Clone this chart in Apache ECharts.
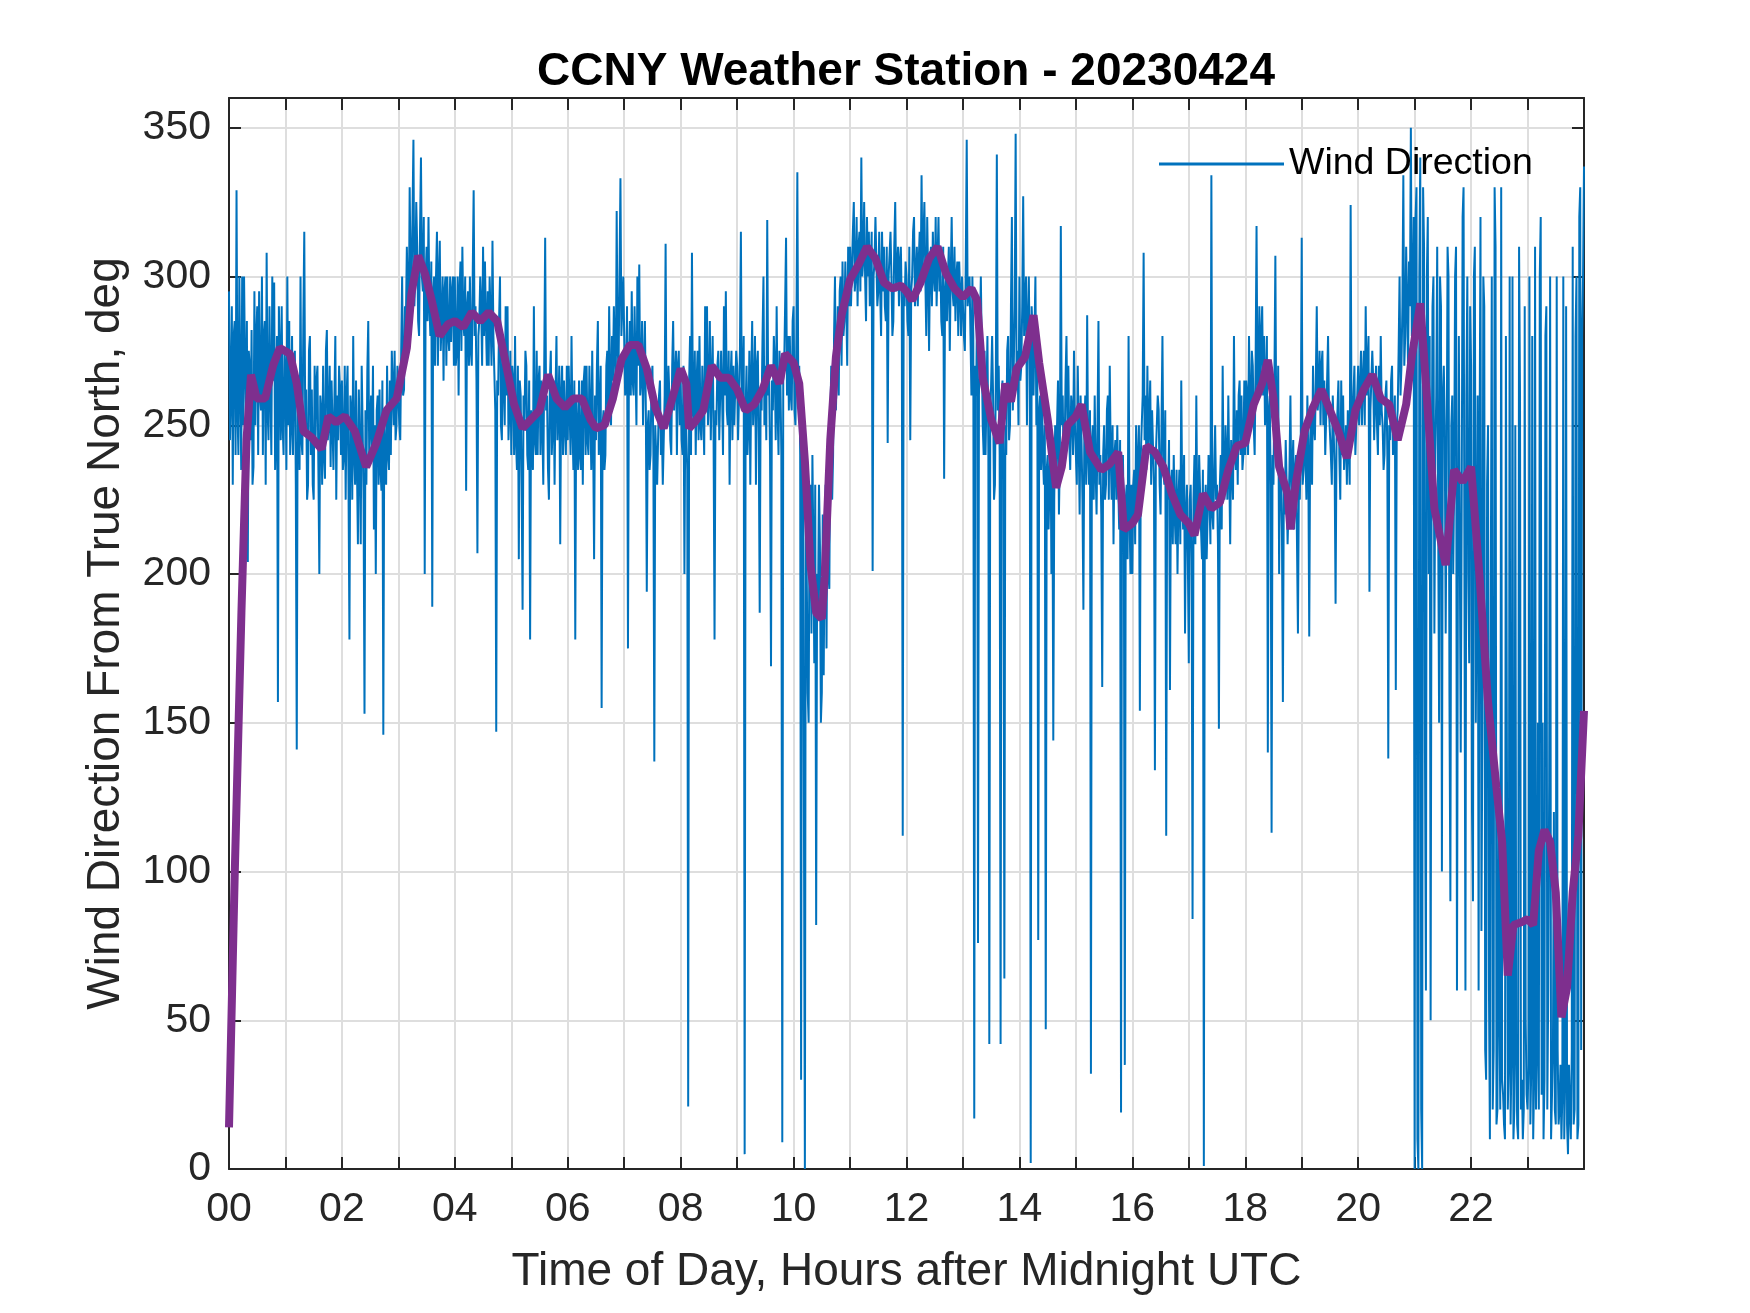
<!DOCTYPE html>
<html>
<head>
<meta charset="utf-8">
<script src="https://cdn.jsdelivr.net/npm/echarts@6/dist/echarts.min.js"></script>
<style>
  html, body { margin: 0; padding: 0; background: #ffffff; }
  #chart { width: 1750px; height: 1313px; }
</style>
</head>
<body>
<div id="chart"></div>
<script>
// ---- Data ----
const titleText = 'CCNY Weather Station - 20230424';
const xAxisName = 'Time of Day, Hours after Midnight UTC';
const yAxisName = 'Wind Direction From True North, deg';
const legendName = 'Wind Direction';

// raw wind direction samples, one per minute within each hour, plus the final sample at 24 h
const windDirH00 = [295,245,262,290,230,280,285,240,329,255,240,300,265,235,300,250,300,270,250,285,204,275,270,245,282,230,236,295,250,280,290,240,295,260,255,300,240,280,285,230,308,255,245,290,262,240,300,265,298,235,250,280,157,290,275,245,290,250,240,275];
const windDirH01 = [268,235,300,250,285,240,250,280,240,270,275,230,141,265,260,235,300,245,240,285,315,250,262,225,230,275,280,240,262,230,225,270,245,265,270,235,200,260,255,230,270,240,232,275,282,245,250,270,236,265,265,235,258,280,225,260,245,270,262,240];
const windDirH02 = [265,235,240,270,225,260,270,230,178,260,255,225,280,240,230,265,236,210,262,240,210,270,250,225,153,255,230,268,285,240,240,260,238,270,215,250,200,255,260,230,262,235,228,265,146,250,250,230,270,240,235,265,240,275,275,250,275,245,250,270];
const windDirH03 = [270,250,245,275,300,260,262,290,285,310,310,280,330,300,295,320,346,290,300,325,310,285,280,315,340,300,295,320,200,300,310,285,320,290,280,305,189,295,300,270,300,315,270,300,312,275,285,300,265,295,300,270,300,280,275,300,278,295,300,270];
const windDirH04 = [300,270,275,300,260,295,305,275,310,285,280,300,228,290,295,270,300,275,270,300,329,280,290,265,207,280,285,300,290,270,310,280,305,285,270,295,270,300,300,270,312,280,280,255,147,265,260,285,300,250,245,280,265,250,290,260,290,245,255,275];
const windDirH05 = [240,270,265,240,280,245,235,270,205,265,260,230,188,260,250,275,270,240,235,265,178,255,255,235,290,245,240,275,240,265,270,240,265,250,230,270,313,255,260,235,225,265,275,240,250,265,230,260,280,245,255,270,210,260,270,240,265,250,240,270];
const windDirH06 = [245,270,270,240,280,250,235,265,178,260,260,235,265,240,235,265,230,265,270,240,270,245,240,270,255,235,275,245,205,260,245,270,285,240,240,270,155,250,255,235,240,270,275,250,290,265,250,280,265,290,290,260,322,275,270,300,333,280,280,300];
const windDirH07 = [300,260,265,290,175,270,285,260,295,265,260,290,270,250,300,270,304,260,265,285,250,270,285,255,194,250,255,235,240,265,270,240,137,250,250,230,230,260,265,240,250,230,230,260,311,250,255,270,260,245,240,270,285,255,255,275,240,270,275,250];
const windDirH08 = [265,245,240,270,200,260,260,235,21,265,280,240,308,255,250,275,240,265,275,245,280,250,245,270,255,240,290,260,290,250,260,285,245,265,280,245,178,255,250,270,275,245,245,275,260,240,290,260,295,255,250,275,230,265,275,245,270,250,250,275];
const windDirH09 = [270,245,245,275,315,255,260,280,5,255,270,240,250,275,230,265,285,250,260,280,230,270,275,245,187,260,255,280,300,250,270,245,319,260,265,240,169,265,255,280,270,245,290,255,240,275,265,240,9,265,270,290,313,260,280,255,280,260,255,285];
const windDirH10 = [290,255,250,280,335,260,270,240,30,250,240,120,0,230,200,160,150,225,230,180,240,210,170,230,82,200,190,230,210,150,160,220,166,210,230,175,230,200,195,250,270,225,240,280,300,255,270,290,260,295,300,270,305,280,285,305,290,270,310,290];
const windDirH11 = [310,290,290,315,325,295,300,320,290,310,315,295,340,300,305,325,300,285,320,300,315,290,290,315,201,300,305,320,320,290,295,315,295,280,315,295,310,290,285,310,244,300,300,315,300,280,285,310,325,295,295,310,290,305,310,290,112,295,290,305];
const windDirH12 = [300,285,280,310,245,295,300,315,320,290,290,310,290,305,315,295,334,300,300,325,300,280,320,300,275,305,310,290,315,300,295,320,290,305,320,295,305,285,280,310,232,295,300,285,300,310,275,300,320,295,290,310,285,300,305,280,305,295,280,300];
const windDirH13 = [300,280,275,305,346,290,290,300,280,260,300,280,17,270,260,290,76,260,280,300,300,250,240,275,240,260,280,240,42,250,250,280,260,225,230,270,341,255,270,240,42,260,265,235,64,250,240,275,280,245,250,290,320,255,270,290,348,265,275,250];
const windDirH14 = [300,265,270,290,327,280,290,300,250,285,300,270,2,290,280,260,280,300,250,270,77,255,260,235,260,240,230,250,47,235,240,215,230,250,200,240,144,225,250,230,250,265,220,240,317,250,260,235,240,265,280,250,270,245,235,260,255,240,275,250];
const windDirH15 = [250,230,270,245,220,260,245,225,188,250,260,230,287,240,230,255,32,245,250,225,260,235,220,250,285,230,240,220,162,240,250,225,230,255,260,225,270,240,225,250,210,240,245,225,250,230,215,245,19,230,240,215,35,225,230,205,280,220,200,230];
const windDirH16 = [200,230,235,210,250,225,225,250,154,240,240,260,308,245,260,235,270,240,240,265,230,255,255,230,134,240,240,260,255,230,220,250,280,235,230,255,112,230,225,245,161,230,235,210,240,220,210,235,200,225,235,210,265,225,215,240,180,220,230,205];
const windDirH17 = [170,225,230,205,84,225,240,210,260,220,215,240,240,215,205,235,1,220,230,205,220,240,240,210,334,220,215,235,250,225,230,210,148,230,240,215,270,230,225,250,240,225,260,235,210,245,245,225,280,240,235,255,230,260,265,240,260,235,240,265];
const windDirH18 = [240,265,260,240,280,255,250,275,270,250,240,270,317,260,265,290,260,280,290,260,280,250,250,280,140,255,260,230,113,240,230,265,307,245,240,270,200,240,235,215,157,230,220,245,230,210,210,235,260,225,225,245,215,235,240,210,180,230,225,245];
const windDirH19 = [313,230,235,250,240,225,260,240,179,245,255,230,270,250,245,265,290,255,260,275,250,270,275,250,265,240,240,265,280,255,255,240,230,260,260,235,190,245,245,265,240,225,265,240,260,235,235,250,230,255,255,230,324,245,245,260,270,240,240,260];
const windDirH20 = [270,250,250,275,250,265,275,250,290,260,260,280,194,255,255,275,265,245,245,270,250,240,270,250,280,255,250,235,240,260,265,240,138,250,245,265,270,240,240,260,161,250,255,275,300,260,270,290,334,270,280,310,290,270,305,290,350,280,290,320];
const windDirH21 = [0,320,330,10,0,300,340,20,0,330,310,140,60,300,320,200,280,50,220,290,300,180,240,260,310,220,150,300,290,100,260,270,250,180,230,310,300,160,90,250,260,200,230,300,310,60,200,280,280,140,220,320,330,190,60,260,300,200,170,290];
const windDirH22 = [270,120,90,300,310,150,200,260,60,240,320,80,150,300,290,40,30,230,250,60,10,200,300,20,40,330,310,15,20,120,60,20,330,30,25,15,10,280,280,20,35,300,15,40,300,10,20,250,40,15,10,310,260,20,30,10,20,290,50,25];
const windDirH23 = [20,35,300,15,35,280,10,30,310,20,40,150,20,300,320,25,150,10,30,280,290,20,60,130,300,10,25,40,120,20,15,300,40,15,20,35,10,25,300,10,30,290,15,5,35,20,10,40,310,15,20,280,300,10,15,320,330,40,280,300];
const windDirEnd = 337;

// smoothed (moving average) curve, hours and degrees
const avgHours = [0,0.1,0.22,0.31,0.39,0.49,0.64,0.78,0.9,1.08,1.2,1.32,1.46,1.64,1.76,1.9,2.05,2.23,2.43,2.61,2.79,2.97,3.15,3.23,3.35,3.47,3.59,3.73,3.88,
  4.0,4.15,4.3,4.45,4.6,4.75,4.9,5.05,5.2,5.35,5.5,5.65,5.8,5.95,6.1,6.25,6.4,6.5,6.65,6.8,6.95,7.1,7.25,7.4,7.55,7.7,7.85,
  8.0,8.1,8.15,8.25,8.4,8.55,8.7,8.85,9.0,9.15,9.3,9.45,9.6,9.75,9.85,10.0,10.1,10.2,10.3,10.4,10.5,10.55,10.65,10.75,10.85,11.0,11.15,11.3,11.45,11.6,11.75,11.9,
  12.0,12.1,12.25,12.4,12.55,12.7,12.85,13.0,13.15,13.25,13.35,13.5,13.65,13.75,13.85,13.95,14.1,14.25,14.35,14.5,14.65,14.75,14.85,15.0,15.1,15.25,15.45,15.6,15.75,15.85,
  16.0,16.1,16.25,16.4,16.55,16.7,16.85,17.0,17.1,17.25,17.4,17.55,17.7,17.85,18.0,18.15,18.3,18.4,18.5,18.6,18.75,18.8,18.9,19.05,19.2,19.35,19.5,19.65,19.8,19.95,
  20.1,20.25,20.4,20.55,20.7,20.85,20.95,21.1,21.2,21.35,21.55,21.7,21.85,22.0,22.15,22.3,22.45,22.55,22.65,22.75,22.9,23.0,23.1,23.2,23.3,23.4,23.5,23.6,23.7,23.8,23.9,24.0];
const avgDeg = [14,98,187,245,267,259,259,270,276,274,264,248,246,242,253,251,253,248,236,244,255,259,276,294,307,301,292,280,284,
  285,283,288,285,288,285,271,257,249,252,255,267,259,256,259,259,252,249,250,259,272,277,277,269,256,249,259,
  269,264,249,251,255,270,266,266,262,255,257,262,270,264,274,271,264,238,203,187,185,199,245,273,287,299,304,310,306,298,296,297,
  295,292,298,306,310,301,296,293,296,292,266,252,244,264,258,269,273,287,271,252,229,236,250,253,257,241,235,237,241,215,
  217,220,243,241,236,227,220,217,213,227,222,224,235,243,244,257,264,272,259,236,227,215,231,248,256,262,255,248,239,255,
  262,267,259,257,245,257,273,291,264,222,203,235,231,236,199,157,128,110,65,82,83,84,82,107,114,110,93,51,61,93,112,154];

const xTickLabelsEvery = 2;   // labels on even hours
const yMax = 360;

// ---- Build series ----
const hourRows = [windDirH00, windDirH01, windDirH02, windDirH03, windDirH04, windDirH05, windDirH06, windDirH07,
  windDirH08, windDirH09, windDirH10, windDirH11, windDirH12, windDirH13, windDirH14, windDirH15,
  windDirH16, windDirH17, windDirH18, windDirH19, windDirH20, windDirH21, windDirH22, windDirH23];
const rawData = [];
hourRows.forEach((row, h) => row.forEach((v, j) => rawData.push([h + j / row.length, v])));
rawData.push([24, windDirEnd]);
const avgData = avgHours.map((h, i) => [h, avgDeg[i]]);

const FONT = '"Liberation Sans", Arial, Helvetica, sans-serif';
const AX = '#262626';

const chart = echarts.init(document.getElementById('chart'), null, { renderer: 'canvas' });
chart.setOption({
  animation: false,
  backgroundColor: '#ffffff',
  title: {
    text: titleText,
    left: 901, top: 44, textAlign: 'center',
    textStyle: { fontFamily: FONT, fontSize: 46, fontWeight: 'bold', color: '#000000' }
  },
  legend: {
    data: [{ name: legendName, icon: 'rect' }],
    left: 1159, top: 145,
    itemWidth: 125, itemHeight: 3, itemGap: 10, padding: 0,
    textStyle: { fontFamily: FONT, fontSize: 37.5, color: '#000000' }
  },
  grid: { left: 229, right: 166, top: 98, bottom: 144, containLabel: false },
  xAxis: [{
    type: 'value', min: 0, max: 24, interval: 1, position: 'bottom',
    name: xAxisName, nameLocation: 'middle', nameGap: 80,
    nameTextStyle: { fontFamily: FONT, fontSize: 46, color: AX },
    axisLine: { show: true, onZero: false, lineStyle: { color: AX, width: 2 } },
    axisTick: { show: true, inside: true, length: 12, lineStyle: { color: AX, width: 2 } },
    axisLabel: {
      show: true, margin: 20, fontFamily: FONT, fontSize: 41, color: AX,
      formatter: v => (v % xTickLabelsEvery === 0 && v < 24) ? String(v).padStart(2, '0') : ''
    },
    splitLine: { show: true, lineStyle: { color: '#dedede', width: 2 } }
  }, {
    type: 'value', min: 0, max: 24, interval: 1, position: 'top',
    axisLine: { show: true, onZero: false, lineStyle: { color: AX, width: 2 } },
    axisTick: { show: true, inside: true, length: 12, lineStyle: { color: AX, width: 2 } },
    axisLabel: { show: false }, splitLine: { show: false }
  }],
  yAxis: [{
    type: 'value', min: 0, max: yMax, interval: 50, position: 'left',
    name: yAxisName, nameLocation: 'middle', nameGap: 100, nameRotate: 90,
    nameTextStyle: { fontFamily: FONT, fontSize: 46, color: AX },
    axisLine: { show: true, onZero: false, lineStyle: { color: AX, width: 2 } },
    axisTick: { show: true, inside: true, length: 12, lineStyle: { color: AX, width: 2 } },
    axisLabel: { show: true, margin: 18, fontFamily: FONT, fontSize: 41, color: AX },
    splitLine: { show: true, lineStyle: { color: '#dedede', width: 2 } }
  }, {
    type: 'value', min: 0, max: yMax, interval: 50, position: 'right',
    axisLine: { show: true, onZero: false, lineStyle: { color: AX, width: 2 } },
    axisTick: { show: true, inside: true, length: 12, lineStyle: { color: AX, width: 2 } },
    axisLabel: { show: false }, splitLine: { show: false }
  }],
  series: [{
    name: legendName, type: 'line', xAxisIndex: 0, yAxisIndex: 0,
    data: rawData, symbol: 'none', showSymbol: false, sampling: false,
    lineStyle: { color: '#0072BD', width: 2 }, itemStyle: { color: '#0072BD' },
    z: 2
  }, {
    name: 'Smoothed', type: 'line', xAxisIndex: 0, yAxisIndex: 0,
    data: avgData, symbol: 'none', showSymbol: false,
    lineStyle: { color: '#7E2F8E', width: 8 }, itemStyle: { color: '#7E2F8E' },
    z: 3
  }]
});
</script>
</body>
</html>
